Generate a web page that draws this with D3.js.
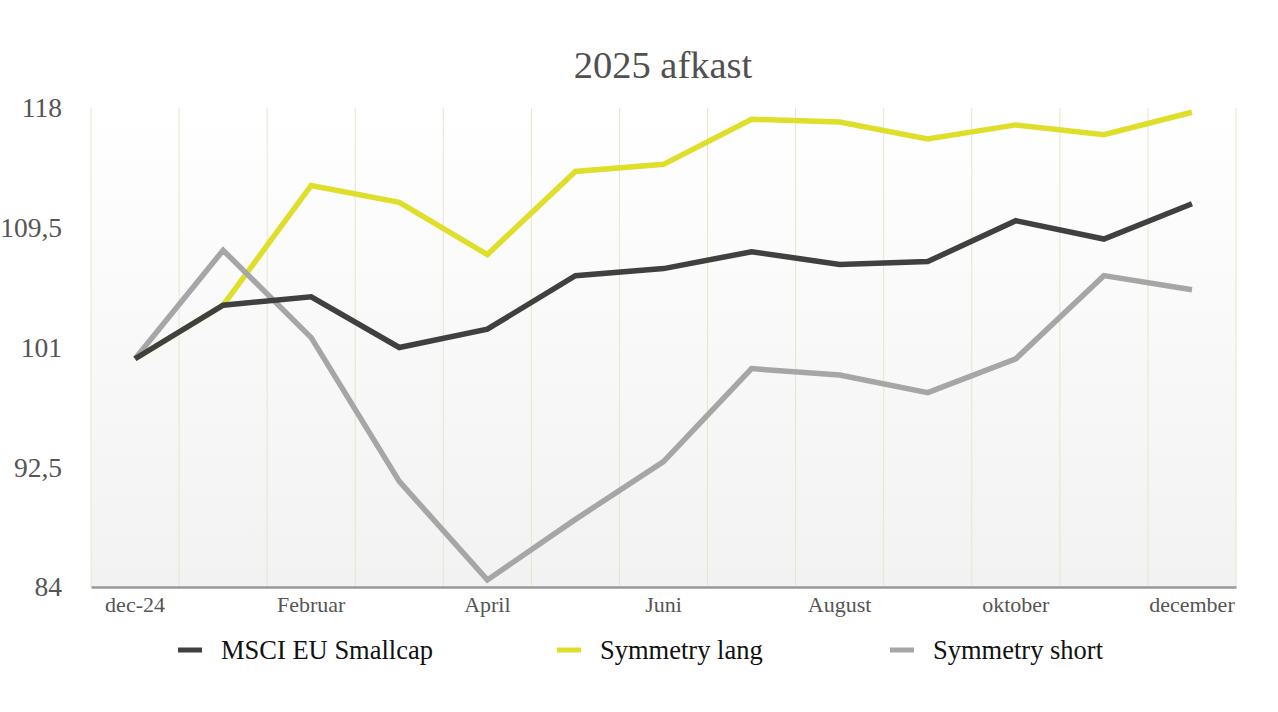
<!DOCTYPE html>
<html>
<head>
<meta charset="utf-8">
<script src="https://cdn.jsdelivr.net/npm/d3@7"></script>
<style>
  html, body { margin: 0; padding: 0; background: #fff; overflow: hidden; }
  svg { display: block; overflow: visible; font-family: "Liberation Serif", "DejaVu Serif", serif; }
</style>
</head>
<body>
<div id="chart"></div>
<script>
// 2025 afkast - indekseret udvikling
const months = ['dec-24', 'Januar', 'Februar', 'Marts', 'April', 'Maj', 'Juni', 'Juli', 'August', 'September', 'oktober', 'November', 'december'];
const shownMonths = ['dec-24', 'Februar', 'April', 'Juni', 'August', 'oktober', 'december'];
const yTicks = [84, 92.5, 101, 109.5, 118];

const msci = [100.2, 104.0, 104.6, 101.0, 102.3, 106.1, 106.6, 107.8, 106.9, 107.1, 110.0, 108.7, 111.2];
const lang = [100.2, 104.0, 112.5, 111.3, 107.6, 113.5, 114.0, 117.2, 117.0, 115.8, 116.8, 116.1, 117.7];
const kort = [100.2, 107.9, 101.7, 91.5, 84.5, 88.8, 92.9, 99.5, 99.05, 97.8, 100.2, 106.1, 105.1];

const series = [
  { name: 'Symmetry lang', values: lang, color: '#dfdf2b' },
  { name: 'Symmetry short', values: kort, color: '#a6a6a6' },
  { name: 'MSCI EU Smallcap', values: msci, color: '#404040' }
];
const legendOrder = ['MSCI EU Smallcap', 'Symmetry lang', 'Symmetry short'];

const width = 1278, height = 712;
const margin = { top: 108, right: 42, bottom: 125, left: 91 };
const innerWidth = width - margin.left - margin.right;
const innerHeight = height - margin.top - margin.bottom;

const svg = d3.select('#chart').append('svg')
  .attr('width', width)
  .attr('height', height);

const defs = svg.append('defs');
const grad = defs.append('linearGradient')
  .attr('id', 'bg')
  .attr('x1', 0).attr('y1', 0).attr('x2', 0).attr('y2', 1);
grad.append('stop').attr('offset', '0%').attr('stop-color', '#ffffff');
grad.append('stop').attr('offset', '100%').attr('stop-color', '#f2f2f2');

const x = d3.scaleBand()
  .domain(months)
  .range([0, innerWidth])
  .padding(0);

const y = d3.scaleLinear()
  .domain([84, 118])
  .range([innerHeight, 0]);

const g = svg.append('g').attr('transform', `translate(${margin.left},${margin.top})`);

g.append('rect')
  .attr('width', innerWidth)
  .attr('height', innerHeight)
  .attr('fill', 'url(#bg)');

// vertical gridlines at category boundaries
const bounds = months.map(m => x(m)).concat([innerWidth]);
g.selectAll('.vgrid')
  .data(bounds)
  .enter()
  .append('line')
  .attr('class', 'vgrid')
  .attr('x1', d => d).attr('x2', d => d)
  .attr('y1', 0).attr('y2', innerHeight)
  .attr('stroke', '#e6e5cf')
  .attr('stroke-width', 1);

// x axis
const xAxis = g.append('g')
  .attr('transform', `translate(0,${innerHeight})`)
  .call(d3.axisBottom(x).tickValues(shownMonths).tickSize(0).tickPadding(9));
xAxis.select('.domain').attr('stroke', '#999').attr('stroke-width', 2.5);
xAxis.selectAll('text')
  .attr('font-family', '"Liberation Serif", serif')
  .attr('font-size', 22)
  .attr('fill', '#555');

// y axis
const yAxis = g.append('g')
  .call(d3.axisLeft(y).tickValues(yTicks).tickSize(0).tickPadding(29)
    .tickFormat(d => String(d).replace('.', ',')));
yAxis.select('.domain').remove();
yAxis.selectAll('text')
  .attr('font-family', '"Liberation Serif", serif')
  .attr('font-size', 27.5)
  .attr('fill', '#555');

// lines
const line = d3.line()
  .x((d, i) => x(months[i]) + x.bandwidth() / 2)
  .y(d => y(d));

g.selectAll('.series')
  .data(series)
  .enter()
  .append('path')
  .attr('class', 'series')
  .attr('d', d => line(d.values))
  .attr('fill', 'none')
  .attr('stroke', d => d.color)
  .attr('stroke-width', 5.5)
  .attr('stroke-linejoin', 'miter');

// title
svg.append('text')
  .attr('x', 663)
  .attr('y', 78)
  .attr('text-anchor', 'middle')
  .attr('font-size', 38.5)
  .attr('fill', '#505050')
  .text('2025 afkast');

// legend
const legendX = [178, 557, 890];
const legend = svg.selectAll('.legend')
  .data(legendOrder.map(n => series.find(s => s.name === n)))
  .enter()
  .append('g')
  .attr('class', 'legend')
  .attr('transform', (d, i) => `translate(${legendX[i]},650)`);
legend.append('line')
  .attr('x1', 0).attr('x2', 24)
  .attr('y1', 0).attr('y2', 0)
  .attr('stroke', d => d.color)
  .attr('stroke-width', 5);
legend.append('text')
  .attr('x', 43)
  .attr('dy', '0.35em')
  .attr('font-size', 26.5)
  .attr('fill', '#111')
  .text(d => d.name);
</script>
</body>
</html>
